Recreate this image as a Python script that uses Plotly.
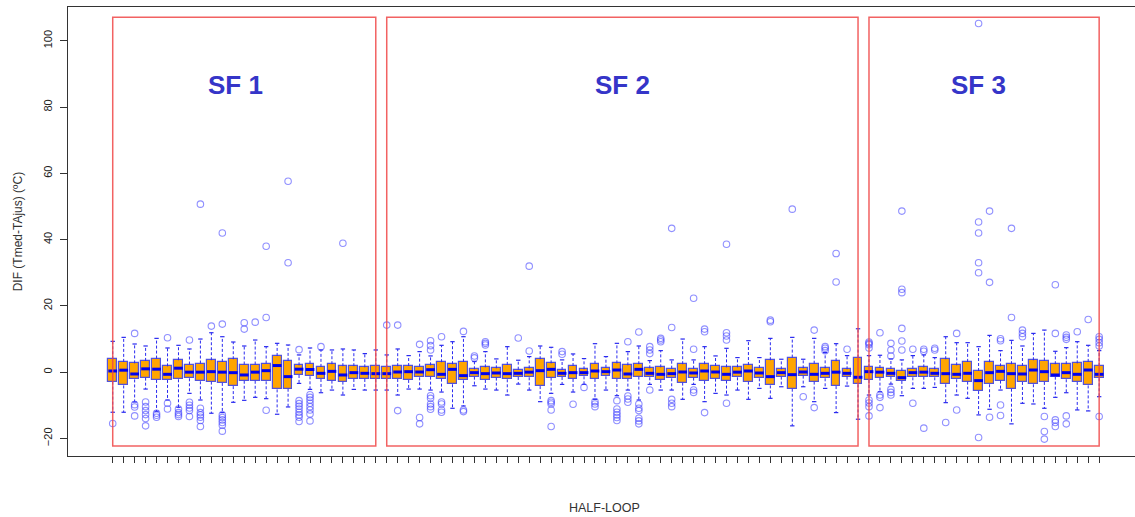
import plotly.graph_objects as go

# ---- data: one box per HALF-LOOP (91 boxes) ----
q1 = [-2.85, -4.0, -2.2, -1.65, -2.35, -2.35, -2.15, -1.85, -2.75, -2.85,
      -3.25, -4.2, -2.6, -2.6, -2.75, -5.2, -5.0, -0.85, -1.25, -2.05,
      -2.55, -2.85, -2.05, -2.05, -2.15, -2.05, -2.05, -2.35, -1.55, -1.35,
      -1.95, -3.65, -2.45, -1.35, -2.35, -1.65, -2.15, -1.45, -1.55, -4.2,
      -1.65, -1.45, -2.05, -1.25, -2.05, -1.25, -2.05, -1.95, -1.35, -1.55,
      -2.35, -1.85, -3.15, -1.65, -2.65, -1.95, -2.55, -1.55, -2.85, -1.85,
      -4.0, -1.35, -5.0, -1.05, -2.85, -1.85, -4.2, -1.35, -3.7, -2.35,
      -1.65, -1.35, -2.65, -1.55, -1.35, -1.55, -3.65, -2.15, -2.85, -5.7,
      -3.65, -2.55, -5.0, -2.95, -3.65, -2.95, -1.35, -2.15, -2.95, -4.0,
      -1.85]
med = [0.36, 0.6, -0.55, 1.0, 0.9, -0.65, 1.2, 0.0, 0.0, 0.15,
       0.0, -0.15, -0.85, 0.0, 0.45, 2.0, -1.35, 0.9, 0.8, -0.35,
       0.25, -0.85, -0.15, -0.35, -0.45, -0.45, 0.05, 0.15, 0.05, 0.75,
       -0.65, 0.85, -1.05, -0.15, -0.45, -0.25, -0.45, -0.35, 0.0, 0.45,
       0.85, -0.35, -0.15, -0.15, 0.35, 0.15, 0.65, -0.55, 0.85, -0.35,
       -0.65, -0.45, 0.05, -0.25, 0.35, 0.05, -0.65, 0.0, 0.35, -0.25,
       -1.35, -0.15, -0.75, 0.05, -0.65, -0.35, 0.0, -0.35, -1.55, 0.15,
       0.0, -0.35, -1.65, -0.15, 0.0, -0.35, -0.45, -0.65, -0.35, -2.55,
       -0.15, 0.25, -0.45, -0.55, 0.65, 0.15, -0.85, -0.15, -0.65, 0.65,
       -0.65]
q3 = [3.9, 3.1, 2.65, 3.4, 4.1, 1.75, 3.6, 2.3, 2.6, 3.6,
      3.1, 3.9, 2.3, 2.3, 2.6, 4.9, 3.4, 2.05, 2.6, 1.6,
      2.4, 1.8, 1.8, 1.45, 1.8, 1.45, 1.8, 1.85, 1.65, 2.05,
      3.0, 2.4, 3.1, 0.85, 1.45, 1.15, 2.2, 0.75, 1.15, 3.9,
      2.65, 0.65, 1.85, 0.85, 2.55, 1.35, 2.65, 2.05, 2.4, 1.15,
      1.45, 1.05, 2.4, 1.05, 2.4, 1.85, 1.45, 1.45, 2.15, 1.25,
      3.6, 0.85, 4.4, 1.15, 2.55, 1.15, 3.3, 0.85, 4.4, 1.5,
      1.25, 0.95, 0.45, 1.05, 1.45, 0.85, 3.9, 2.05, 3.1, 0.35,
      3.0, 1.75, 2.4, 1.85, 3.6, 3.5, 2.4, 2.4, 2.65, 3.1,
      1.85]
whisker_low = [-12.1, -12.1, -9.0, -5.1, -11.8, -8.4, -10.6, -6.4, -8.4, -12.4,
               -12.2, -9.1, -8.5, -7.6, -8.0, -12.7, -10.5, -3.4, -5.2, -6.2,
               -5.4, -6.9, -5.2, -5.4, -5.4, -5.4, -6.9, -5.1, -5.1, -5.4,
               -6.0, -10.9, -10.2, -4.1, -5.1, -5.4, -6.9, -3.6, -5.4, -8.9,
               -6.4, -3.7, -6.0, -3.7, -8.2, -5.4, -7.1, -5.4, -8.4, -3.7,
               -5.4, -5.4, -8.2, -3.7, -8.9, -6.4, -6.9, -5.4, -8.2, -4.9,
               -7.9, -4.4, -16.2, -4.4, -8.9, -4.9, -12.2, -4.2, -14.2, -6.9,
               -5.9, -3.6, -7.1, -4.9, -4.9, -4.6, -9.2, -6.9, -7.9, -12.9,
               -11.2, -5.4, -15.6, -9.4, -9.6, -10.9, -7.6, -6.2, -11.4, -11.7,
               -7.4]
whisker_high = [9.3, 10.5, 8.5, 7.9, 10.2, 7.3, 8.1, 7.0, 10.0, 11.9,
                10.7, 9.1, 7.9, 9.7, 7.7, 8.7, 8.2, 5.2, 7.3, 6.7,
                6.7, 7.0, 6.7, 5.6, 6.7, 5.2, 7.0, 5.0, 6.2, 4.9,
                8.1, 9.2, 10.7, 3.2, 6.2, 4.0, 7.7, 3.6, 4.7, 7.9,
                7.5, 3.7, 5.5, 4.1, 8.6, 4.7, 8.7, 6.2, 7.9, 3.5,
                6.5, 3.7, 10.0, 3.7, 7.7, 4.9, 7.2, 4.4, 9.5, 4.4,
                10.2, 3.9, 10.5, 3.9, 10.2, 5.9, 8.6, 5.0, 13.1, 5.0,
                5.1, 4.0, 3.7, 5.0, 5.2, 4.4, 10.7, 8.9, 8.9, 7.7,
                11.1, 6.5, 9.6, 7.9, 11.7, 12.7, 6.3, 7.4, 9.2, 8.1,
                6.5]
outliers = [
    [-15.5], [], [11.7, -9.8, -10.5, -13.2], [-9.0, -10.4, -11.6, -12.8, -14.0, -16.2],
    [-12.4, -13.0, -13.6], [10.4, -9.4, -11.1], [-11.1, -12.2, -12.8, -13.4],
    [9.7, -9.1, -10.0, -10.8, -11.6, -13.4], [50.7, -10.9, -12.2, -12.9, -13.6, -14.6, -16.4],
    [13.9], [42.0, 14.5, -12.9, -13.7, -14.4, -15.2, -16.0, -17.8], [], [13.0, 14.9],
    [15.1], [38.0, 16.5, -11.5], [], [57.6, 33.0],
    [6.8, -8.6, -9.5, -10.3, -11.1, -12.1, -12.9, -13.6, -14.9],
    [-6.8, -7.6, -8.4, -9.4, -10.4, -11.4, -12.6, -14.7],
    [7.7], [], [38.9], [], [], [], [14.2], [14.2, -11.6], [],
    [8.4, -13.7, -15.6], [9.5, 8.0, 6.7, -7.1, -7.9, -9.6, -10.4, -11.2],
    [10.7, -9.0, -9.6, -11.4, -12.1], [], [12.3, -11.4, -11.9], [4.9, 4.3],
    [9.2, 8.7, 8.2], [], [], [10.3], [32.0, 6.4], [],
    [-8.6, -9.1, -9.6, -11.4, -16.4], [6.2, 5.4], [-9.7], [-4.6],
    [-8.9, -9.6, -10.4], [], [-8.6, -11.1, -12.1, -12.9, -13.7, -14.6],
    [9.2, -7.2, -8.1, -9.1], [12.1, -9.6, -10.9, -11.6, -13.9, -14.7, -15.6],
    [7.7, 6.7, 5.6, -5.4], [10.2, 9.7, 9.2], [43.4, 13.5, -8.2, -9.4, -10.4], [],
    [22.3, 6.9, -5.4, -6.1], [13.0, 12.2, -12.2], [], [38.6, 11.9, 10.9, 9.7, -9.4],
    [], [], [], [15.7, 15.2], [], [49.2], [-7.4], [12.7, -10.7], [7.7, 7.2, 6.5],
    [35.8, 27.2], [6.9], [], [9.1, 8.7, 8.3, 7.3, -8.4, -9.3, -10.4, -13.2],
    [11.9, -6.9, -7.6, -10.7], [8.7, 6.7, 4.9, -5.2, -6.1, -6.9],
    [48.6, 25.0, 24.0, 13.2, 9.4, 6.7], [6.9, -9.4], [6.9, 6.3, -16.9], [7.2, 6.7],
    [-15.2], [11.7, -11.4], [], [105.2, 45.3, 42.0, 33.0, 30.0, -19.7],
    [48.6, 27.1, -13.6], [10.1, 9.5, -9.9, -13.1], [43.4, 16.5], [12.7, 11.7, 10.7],
    [], [-13.4, -17.9, -20.2], [26.4, 11.7, -14.4, -15.2, -16.4],
    [11.2, 10.5, 9.9, -13.2, -15.6], [12.2], [15.9], [10.7, 9.9, 8.9, 7.9, -13.4],
]

# groups (first box, last box, label)
group_names = ["SF 1", "SF 2", "SF 3"]
group_start = [1, 26, 70]
group_end = [25, 69, 91]
group_label_x = [12.2, 47.5, 80.0]
group_label_y = 86.6
group_rect_bottom = -22.3
group_rect_top = 107.1

y_ticks = [-20, 0, 20, 40, 60, 80, 100]

n = len(med)
xs = list(range(1, n + 1))

FONT = "Liberation Sans, Arial, sans-serif"
fig = go.Figure()

# whiskers (dashed)
wx, wy = [], []
for x, a, b, lo_, hi_ in zip(xs, q1, q3, whisker_low, whisker_high):
    wx += [x, x, None, x, x, None]
    wy += [b, hi_, None, a, lo_, None]
fig.add_trace(go.Scatter(x=wx, y=wy, mode="lines",
                         line=dict(color="#2A2AF0", width=1, dash="3px,2px"),
                         hoverinfo="skip", showlegend=False))
# staples
cx, cy = [], []
for x, lo_, hi_ in zip(xs, whisker_low, whisker_high):
    cx += [x - 0.2, x + 0.2, None, x - 0.2, x + 0.2, None]
    cy += [hi_, hi_, None, lo_, lo_, None]
fig.add_trace(go.Scatter(x=cx, y=cy, mode="lines",
                         line=dict(color="#2A2AF0", width=1.2),
                         hoverinfo="skip", showlegend=False))
# boxes
fig.add_trace(go.Bar(x=xs, y=[b - a for a, b in zip(q1, q3)], base=q1, width=0.8,
                     marker=dict(color="#FFA500", line=dict(color="#5252DC", width=1.2)),
                     showlegend=False))
# medians
mx, my = [], []
for x, m in zip(xs, med):
    mx += [x - 0.4, x + 0.4, None]
    my += [m, m, None]
fig.add_trace(go.Scatter(x=mx, y=my, mode="lines",
                         line=dict(color="#0000EE", width=3),
                         hoverinfo="skip", showlegend=False))
# outliers
ox, oy = [], []
for x, outs in zip(xs, outliers):
    ox += [x] * len(outs)
    oy += outs
fig.add_trace(go.Scatter(x=ox, y=oy, mode="markers",
                         marker=dict(symbol="circle-open", size=6.5,
                                     color="rgba(70,70,255,0.6)",
                                     line=dict(width=1.1)),
                         showlegend=False))

# group rectangles and labels
for name, s, e, lx in zip(group_names, group_start, group_end, group_label_x):
    fig.add_shape(type="rect", xref="x", yref="y", x0=s, x1=e,
                  y0=group_rect_bottom, y1=group_rect_top,
                  line=dict(color="rgba(240,70,70,0.85)", width=1.5),
                  fillcolor="rgba(0,0,0,0)", layer="above")
    fig.add_annotation(x=lx, y=group_label_y, xref="x", yref="y", text=name,
                       showarrow=False,
                       font=dict(family=FONT, size=26, color="#3535C8", weight="bold"))

fig.add_annotation(x=45.9, y=-0.116, xref="x", yref="paper", text="HALF-LOOP",
                   showarrow=False, yanchor="middle",
                   font=dict(family=FONT, size=12.5, color="#333333"))
fig.add_annotation(x=-0.047, y=0.5, xref="paper", yref="paper",
                   xanchor="center", yanchor="middle",
                   text="DIF (Tmed-TAjus) (ºC)", textangle=-90, showarrow=False,
                   font=dict(family=FONT, size=12, color="#333333"))

fig.update_layout(
    width=1135, height=517, autosize=False,
    margin=dict(l=68, r=0, t=7, b=61),
    paper_bgcolor="white", plot_bgcolor="white",
    bargap=0, barmode="overlay",
    showlegend=False,
    xaxis=dict(range=[-3.08, 94.27], showgrid=False, zeroline=False,
               showline=True, linecolor="#333333", linewidth=1, mirror=True,
               tickmode="array", tickvals=xs, ticktext=[""] * n,
               ticks="outside", ticklen=6, tickcolor="#333333", tickwidth=1),
    yaxis=dict(range=[-25.3, 110.2], showgrid=False, zeroline=False,
               showline=True, linecolor="#333333", linewidth=1, mirror=False,
               tickmode="array", tickvals=y_ticks,
               ticks="outside", ticklen=7, tickcolor="#333333", tickwidth=1,
               tickangle=-90, ticklabelstandoff=4,
               tickfont=dict(family=FONT, size=11, color="#222222")),
)

fig.write_html("out.html",
               config={"displayModeBar": False},
               post_script="document.body.style.margin='0px';"
                           "document.body.style.overflow='hidden';")
